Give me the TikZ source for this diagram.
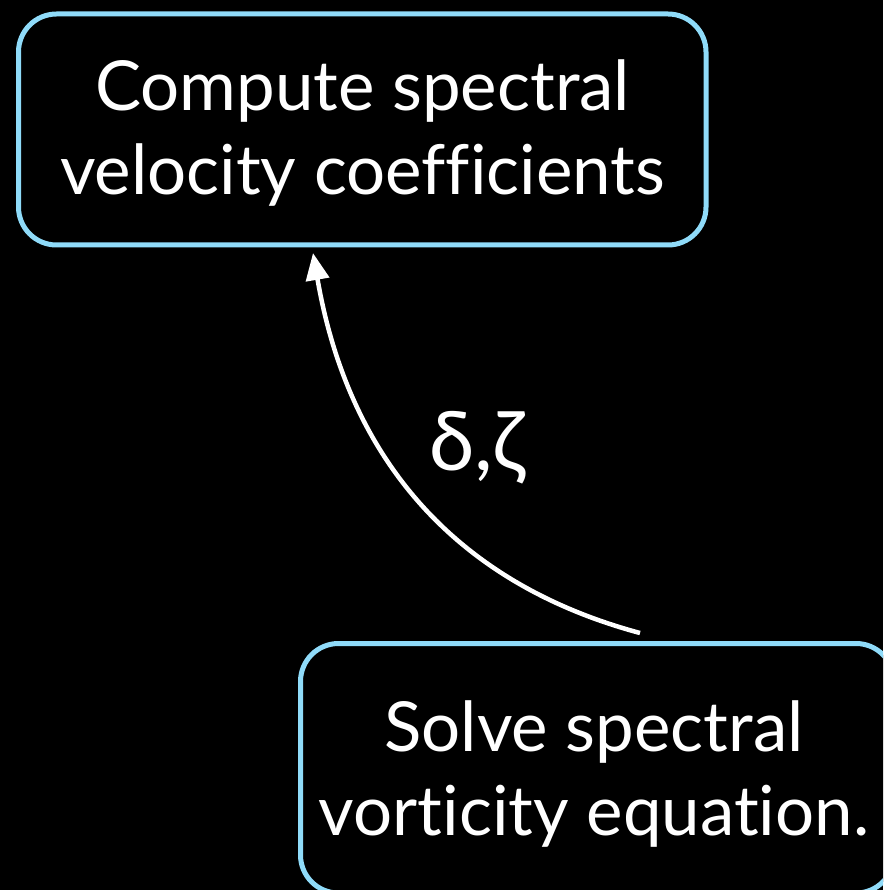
\documentclass[tikz,border=0pt]{standalone}
\usepackage{fontspec}
\setmainfont{Lato}[Ligatures={NoCommon}]
\usetikzlibrary{arrows.meta}
\definecolor{edgeblue}{RGB}{143,219,249}
\tikzset{
  procbox/.style={draw=edgeblue, line width=5pt, fill=black, rounded corners=38pt, inner sep=0pt},
  boxtext/.style={text=white, align=center, font=\fontsize{69}{84}\selectfont, inner sep=0pt},
  flow/.style={draw=white, line width=4.5pt, -{Triangle[length=27pt,width=23pt]}},
  flowlabel/.style={text=white, font=\fontsize{82}{90}\selectfont, inner sep=0pt}
}
\begin{document}
\begin{tikzpicture}[x=1pt,y=-1pt]
  \useasboundingbox (0,0) rectangle (883,890);
  \fill[black] (0,0) rectangle (883,890);
  \clip (0,0) rectangle (883,890);
  \node[procbox, minimum width=687.5pt, minimum height=231pt] (b1) at (362.25,129.5) {};
  \node[boxtext] (t1) at (362.5,133.5) {Compute spectral\\velocity coefficients};
  \node[procbox, minimum width=593.5pt, minimum height=249.5pt] (b2) at (597.25,768.25) {};
  \node[boxtext] (t2) at (594,774) {Solve spectral\\vorticity equation.};
  \coordinate (s) at (640,633);
  \coordinate (e) at (313,253);
  \draw[flow] (s) .. controls (447,581) and (347,450) .. (e);
  \node[flowlabel] (lab) at (477,448) {δ,ζ};
\end{tikzpicture}
\end{document}
